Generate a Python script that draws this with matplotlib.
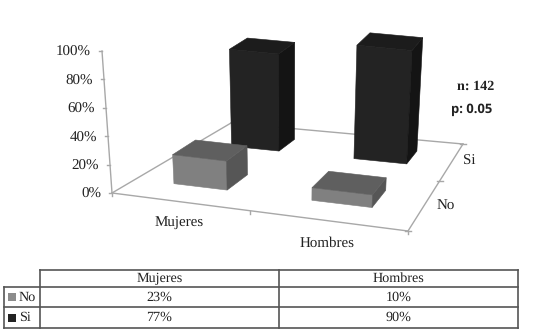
import matplotlib
matplotlib.use('Agg')
import matplotlib.pyplot as plt
import numpy as np

categories = ['Mujeres', 'Hombres']
series_names = ['No', 'Si']
no_values = [23, 10]
si_values = [77, 90]
y_ticks = [0, 20, 40, 60, 80, 100]

SERIF = 'Liberation Serif'
AXIS_GRAY = '#a8a8a8'
LINE_GRAY = '#555555'

plt.rcParams['text.hinting'] = 'no_hinting'

fig = plt.figure(figsize=(5.41, 3.32), dpi=100)
ax = fig.add_axes([0, 0, 1, 1])
ax.set_xlim(0, 541)
ax.set_ylim(332, 0)
ax.axis('off')

# floor of the 3d box, corners in pixels: front left, front right, back right, back left
src = np.array([[0, 0], [1, 0], [1, 1], [0, 1]], dtype=float)
dst = np.array([[112, 193], [408, 231], [463, 144], [231, 123]], dtype=float)
rows, rhs = [], []
for (u, v), (x, y) in zip(src, dst):
    rows.append([u, v, 1, 0, 0, 0, -u * x, -v * x])
    rows.append([0, 0, 0, u, v, 1, -u * y, -v * y])
    rhs += [x, y]
H = np.append(np.linalg.solve(np.array(rows), np.array(rhs)), 1).reshape(3, 3)


def project(u, v, h=0):
    px, py, w = H @ np.array([u, v, 1.0])
    px, py = px / w, py / w
    lift = h * 1.26
    return px + (px - 288) * 0.0004 * lift, py - lift


def draw_bar(i, j, value, front, top, side):
    half_u, half_v = 0.1, 0.09
    cu, cv = (i + 0.5) / 2, (j + 0.5) / 2
    fl = (cu - half_u, cv - half_v)
    fr = (cu + half_u, cv - half_v)
    br = (cu + half_u, cv + half_v)
    bl = (cu - half_u, cv + half_v)
    faces = [
        ([fl, fr], front),
        ([fr, br], side),
    ]
    for (a, b), color in faces:
        pts = [project(*a), project(*b), project(*b, value), project(*a, value)]
        ax.fill(*zip(*pts), facecolor=color, edgecolor=color, lw=0.4, zorder=3 + j * -1)
    pts = [project(*p, value) for p in (fl, fr, br, bl)]
    ax.fill(*zip(*pts), facecolor=top, edgecolor=top, lw=0.4, zorder=3 + j * -1)


# floor lines
for a, b in [((0, 0), (1, 0)), ((1, 0), (1, 1)), ((1, 1), (0, 1)), ((0, 1), (0, 0))]:
    p, q = project(*a), project(*b)
    ax.plot([p[0], q[0]], [p[1], q[1]], color=AXIS_GRAY, lw=1.0, zorder=1)

# value axis
axis_bottom = np.array([112, 193])
axis_top = np.array([102, 51])
ax.plot([axis_bottom[0], axis_top[0]], [axis_bottom[1], axis_top[1]], color=AXIS_GRAY, lw=1.0, zorder=1)
for t in y_ticks:
    p = axis_bottom + (axis_top - axis_bottom) * t / 100
    ax.plot([p[0] - 3, p[0]], [p[1], p[1]], color=AXIS_GRAY, lw=1.0, zorder=1)
    ax.text(p[0] - 11, p[1] + 1.5, f'{t}%', ha='right', va='center', fontsize=10.8, family=SERIF, color='#222222')

# tick marks on the floor edges
for u in [0, 0.5, 1]:
    p = project(u, 0)
    ax.plot([p[0], p[0]], [p[1], p[1] + 3], color=AXIS_GRAY, lw=1.0, zorder=1)
for v in [0, 0.5, 1]:
    p = project(1, v)
    ax.plot([p[0] - 3, p[0] + 3], [p[1], p[1]], color=AXIS_GRAY, lw=1.0, zorder=1)

# back row first, front row over it
for i, val in enumerate(si_values):
    draw_bar(i, 1, val, '#232323', '#1c1c1c', '#141414')
for i, val in enumerate(no_values):
    draw_bar(i, 0, val, '#808080', '#5f5f5f', '#565656')

ax.text(179, 223, categories[0], ha='center', va='center', fontsize=10.8, family=SERIF, color='#222222')
ax.text(327, 243, categories[1], ha='center', va='center', fontsize=10.8, family=SERIF, color='#222222')
ax.text(446, 205, series_names[0], ha='center', va='center', fontsize=10.8, family=SERIF, color='#222222')
ax.text(469, 161, series_names[1], ha='center', va='center', fontsize=10.8, family=SERIF, color='#222222')

ax.text(476, 86, 'n: 142', ha='center', va='center', fontsize=10.2, family=SERIF, fontweight='bold', color='#222222')
ax.text(472, 110, 'p: 0.05', ha='center', va='center', fontsize=9.4, family='Open Sans', fontweight='bold', color='#222222')

# data table
tx = [4, 40, 279, 518]
ty = [270, 287, 307, 328]
ax.plot([tx[1], tx[3]], [ty[0], ty[0]], color=LINE_GRAY, lw=1.2)
for y in ty[1:]:
    ax.plot([tx[0], tx[3]], [y, y], color=LINE_GRAY, lw=1.2)
for x in tx[1:]:
    ax.plot([x, x], [ty[0], ty[3]], color=LINE_GRAY, lw=1.2)
ax.plot([tx[0], tx[0]], [ty[1], ty[3]], color=LINE_GRAY, lw=1.2)

centers = [(tx[1] + tx[2]) / 2, (tx[2] + tx[3]) / 2]
for c, name in zip(centers, categories):
    ax.text(c, (ty[0] + ty[1]) / 2, name, ha='center', va='center', fontsize=10.2, family=SERIF, color='#222222')
for r, (name, vals, swatch) in enumerate(zip(series_names, [no_values, si_values], ['#8c8c8c', '#232323'])):
    y = (ty[r + 1] + ty[r + 2]) / 2
    ax.scatter([12], [y], marker='s', s=30, color=swatch, linewidths=0)
    ax.text(19, y, name, ha='left', va='center', fontsize=10.2, family=SERIF, color='#222222')
    for c, val in zip(centers, vals):
        ax.text(c, y, f'{val}%', ha='center', va='center', fontsize=10.2, family=SERIF, color='#222222')

fig.savefig('out.png', dpi=100)
